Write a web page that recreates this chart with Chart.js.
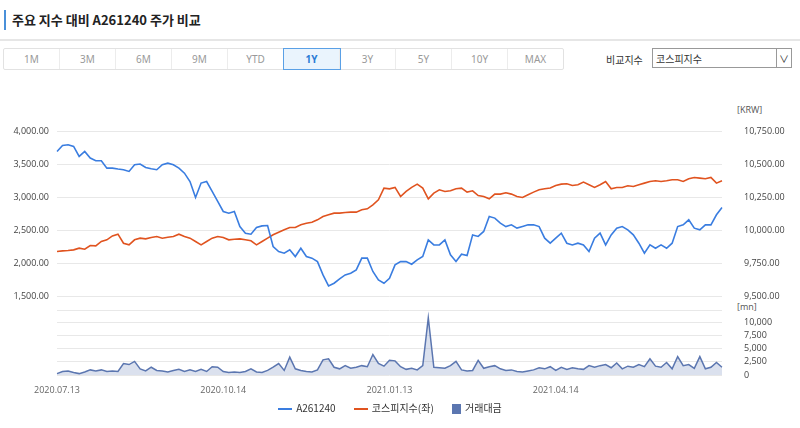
<!DOCTYPE html>
<html>
<head>
<meta charset="utf-8">
<script src="https://cdn.jsdelivr.net/npm/chart.js@4.4.0/dist/chart.umd.min.js"></script>
<style>
  body { margin: 0; width: 800px; height: 428px; background: #fff; font-family: "Noto Sans CJK KR", "Noto Sans", sans-serif; position: relative; overflow: hidden; }
  .title { position: absolute; left: 4px; top: 10px; height: 20px; border-left: 2px solid #4a90d9; padding-left: 6px; font-size: 13px; font-weight: bold; color: #222; line-height: 20px; }
  .sep { position: absolute; left: 0; right: 0; top: 39px; border-top: 2px solid #e6e6e6; }
  .btns { position: absolute; left: 3px; top: 48px; display: flex; border: 1px solid #e2e2e2; border-radius: 2px; }
  .btns div { width: 55px; height: 20px; line-height: 20px; text-align: center; font-size: 10px; color: #999; border-right: 1px solid #ececec; font-family: "Noto Sans", sans-serif; }
  .btns div:last-child { border-right: none; }
  .btns .on { background: #eaf4fd; color: #2a7cd6; font-weight: bold; outline: 1px solid #5aa0e6; }
  .cmp { position: absolute; left: 606px; top: 52px; font-size: 10px; color: #333; }
  .sel { position: absolute; left: 652px; top: 48px; width: 140px; height: 20px; border: 1px solid #999; font-size: 10px; line-height: 20px; padding-left: 3px; box-sizing: border-box; color: #333; }
  .sel span { position: absolute; right: 0; top: 0; width: 14px; height: 18px; border-left: 1px solid #999; text-align: center; font-size: 10px; }
  .unit { position: absolute; font-size: 9px; color: #555; font-family: "Open Sans", sans-serif; }
  canvas { position: absolute; left: 0; }
  .legend { position: absolute; top: 400px; left: 0; width: 780px; text-align: center; font-size: 10px; color: #333; }
  .legend span { display: inline-block; margin: 0 8px; }
  .legend i { display: inline-block; vertical-align: middle; margin-right: 4px; }
</style>
</head>
<body>
<div class="title">주요 지수 대비 A261240 주가 비교</div>
<div class="sep"></div>
<div class="btns"><div>1M</div><div>3M</div><div>6M</div><div>9M</div><div>YTD</div><div class="on">1Y</div><div>3Y</div><div>5Y</div><div>10Y</div><div>MAX</div></div>
<div class="cmp">비교지수</div>
<div class="sel">코스피지수<span>&#8744;</span></div>
<div class="unit" style="left:737px;top:103px">[KRW]</div>
<div class="unit" style="left:737px;top:300px">[mn]</div>
<canvas id="priceChart" style="top:112px" width="800" height="204"></canvas>
<canvas id="volChart" style="top:291px" width="800" height="107"></canvas>
<div class="legend">
  <span><i style="width:14px;height:2px;background:#3a7de0"></i>A261240</span>
  <span><i style="width:14px;height:2px;background:#e0531f"></i>코스피지수(좌)</span>
  <span><i style="width:9px;height:10px;background:#5b76b0"></i>거래대금</span>
</div>
<script>
// values, one point per ~2 trading days
const tickDates = ['2020.07.13', '2020.10.14', '2021.01.13', '2021.04.14'];
const tickIndex = [0, 30, 60, 90];
const volTicks = [0, 2500, 5000, 7500, 10000];

const stockPrice = [
  10598, 10644, 10649, 10636, 10561, 10598, 10548, 10528, 10528, 10472,
  10472, 10465, 10460, 10447, 10498, 10503, 10477, 10467, 10460, 10498,
  10510, 10498, 10472, 10434, 10371, 10250, 10359, 10371, 10296, 10220,
  10144, 10131, 10144, 10030, 9980, 9972, 10023, 10035, 10038, 9879,
  9841, 9828, 9854, 9803, 9866, 9803, 9791, 9765, 9664, 9581,
  9601, 9634, 9664, 9677, 9702, 9791, 9791, 9690, 9626, 9601,
  9639, 9740, 9765, 9765, 9745, 9778, 9803, 9929, 9891, 9891,
  9929, 9816, 9765, 9821, 9811, 9967, 9955, 9993, 10106, 10094,
  10056, 10030, 10043, 10018, 10030, 10043, 10043, 10030, 9942, 9904,
  9942, 9980, 9904, 9891, 9904, 9891, 9841, 9942, 9980, 9891,
  9967, 10018, 10030, 10005, 9967, 9904, 9828, 9891, 9866, 9891,
  9866, 9904, 10030, 10043, 10081, 10018, 10005, 10043, 10043, 10119,
  10174
];

const kospi = [
  2182, 2192, 2197, 2207, 2233, 2217, 2273, 2268, 2334, 2359,
  2419, 2445, 2308, 2283, 2359, 2384, 2374, 2394, 2409, 2384,
  2399, 2409, 2445, 2409, 2384, 2334, 2283, 2334, 2384, 2409,
  2394, 2359, 2369, 2374, 2359, 2344, 2283, 2334, 2384, 2435,
  2475, 2510, 2546, 2546, 2586, 2611, 2626, 2662, 2712, 2738,
  2763, 2763, 2773, 2778, 2778, 2813, 2828, 2889, 2965, 3142,
  3131, 3152, 3015, 3091, 3152, 3202, 3142, 2980, 3066, 3116,
  3091, 3101, 3131, 3142, 3081, 3101, 3030, 3015, 2980, 3051,
  3051, 3071, 3051, 3015, 3000, 3041, 3081, 3116, 3131, 3142,
  3182, 3202, 3207, 3182, 3192, 3232, 3192, 3152, 3192, 3242,
  3131, 3152, 3152, 3177, 3167, 3192, 3217, 3242, 3253, 3242,
  3253, 3268, 3268, 3242, 3283, 3303, 3293, 3283, 3303, 3217,
  3253
];

const tradeValue = [
  300, 700, 800, 500, 300, 600, 1000, 800, 1000, 700,
  800, 700, 2200, 2000, 2600, 1200, 800, 1500, 900, 800,
  600, 900, 1100, 700, 1000, 700, 1100, 700, 1600, 1500,
  700, 500, 600, 500, 700, 1200, 600, 500, 900, 1500,
  2200, 900, 3400, 1200, 900, 700, 600, 1000, 2900, 3100,
  1500, 1200, 1800, 1300, 1500, 1800, 1600, 3900, 2200, 1700,
  2800, 2700, 1600, 1100, 1300, 1000, 1800, 10800, 1500, 1400,
  1300, 1800, 2600, 1000, 800, 900, 2800, 1300, 1600, 1800,
  1200, 900, 1000, 700, 600, 800, 1000, 1400, 1200, 1600,
  900, 1500, 1100, 1400, 1200, 1100, 1800, 1500, 1800, 2000,
  1400, 2300, 1200, 1700, 1500, 2000, 1600, 3100, 1700, 1500,
  2400, 1200, 3500, 1800, 2000, 1300, 3500, 1200, 1500, 2400,
  1500
];

const labels = stockPrice.map((v, i) => i);
const tickFont = { family: 'Open Sans', size: 9 };
const gridColor = '#e8e8e8';

function fixWidth(w) {
  return function(scale) { scale.width = w; };
}
function fmt2(v) {
  return v.toLocaleString('en-US', { minimumFractionDigits: 2, maximumFractionDigits: 2 });
}
function setVolTicks(withTop) {
  return function(scale) {
    const t = volTicks.map(v => ({ value: v }));
    if (withTop) t.push({ value: scale.max });
    scale.ticks = t;
  };
}

new Chart(document.getElementById('priceChart'), {
  type: 'line',
  data: {
    labels: labels,
    datasets: [
      { label: 'A261240', data: stockPrice, yAxisID: 'yr', borderColor: '#3a7de0', borderWidth: 1.6, pointRadius: 0, tension: 0 },
      { label: '코스피지수(좌)', data: kospi, yAxisID: 'yl', borderColor: '#e0531f', borderWidth: 1.6, pointRadius: 0, tension: 0 }
    ]
  },
  options: {
    responsive: false,
    animation: false,
    layout: { padding: { top: 5, bottom: 5, left: 0, right: 0 } },
    plugins: { legend: { display: false }, tooltip: { enabled: false } },
    scales: {
      x: { display: false },
      yl: {
        position: 'left', min: 1500, max: 4000,
        afterFit: fixWidth(57),
        border: { display: false },
        grid: { color: gridColor, drawTicks: false },
        ticks: { stepSize: 500, font: tickFont, color: '#444', padding: 8, callback: fmt2 }
      },
      yr: {
        position: 'right', min: 9500, max: 10750,
        afterFit: fixWidth(78),
        border: { display: false },
        grid: { display: false },
        ticks: { stepSize: 250, font: tickFont, color: '#444', padding: 14, callback: fmt2 }
      }
    }
  }
});

new Chart(document.getElementById('volChart'), {
  type: 'line',
  data: {
    labels: labels,
    datasets: [
      { label: '거래대금', data: tradeValue, yAxisID: 'yv', borderColor: '#5b76b0', backgroundColor: 'rgba(91,118,176,0.22)', fill: 'origin', borderWidth: 1.5, pointRadius: 0, tension: 0 }
    ]
  },
  options: {
    responsive: false,
    animation: false,
    layout: { padding: { top: 0, bottom: 0 } },
    plugins: { legend: { display: false }, tooltip: { enabled: false } },
    scales: {
      x: {
        border: { display: false },
        grid: { display: false },
        ticks: {
          autoSkip: false, maxRotation: 0, font: tickFont, color: '#666', padding: 2,
          callback: function(v, i) {
            const k = tickIndex.indexOf(i);
            return k >= 0 ? tickDates[k] : null;
          }
        }
      },
      yl: {
        position: 'left', min: 0, max: 12200,
        afterFit: fixWidth(57),
        afterBuildTicks: setVolTicks(true),
        border: { display: false },
        grid: { color: gridColor, drawTicks: false },
        ticks: { display: false, autoSkip: false }
      },
      yv: {
        position: 'right', min: 0, max: 12200,
        afterFit: fixWidth(78),
        afterBuildTicks: setVolTicks(false),
        border: { display: false },
        grid: { display: false },
        ticks: { autoSkip: false, font: tickFont, color: '#444', padding: 14, callback: v => v.toLocaleString('en-US') }
      }
    }
  }
});
</script>
</body>
</html>
